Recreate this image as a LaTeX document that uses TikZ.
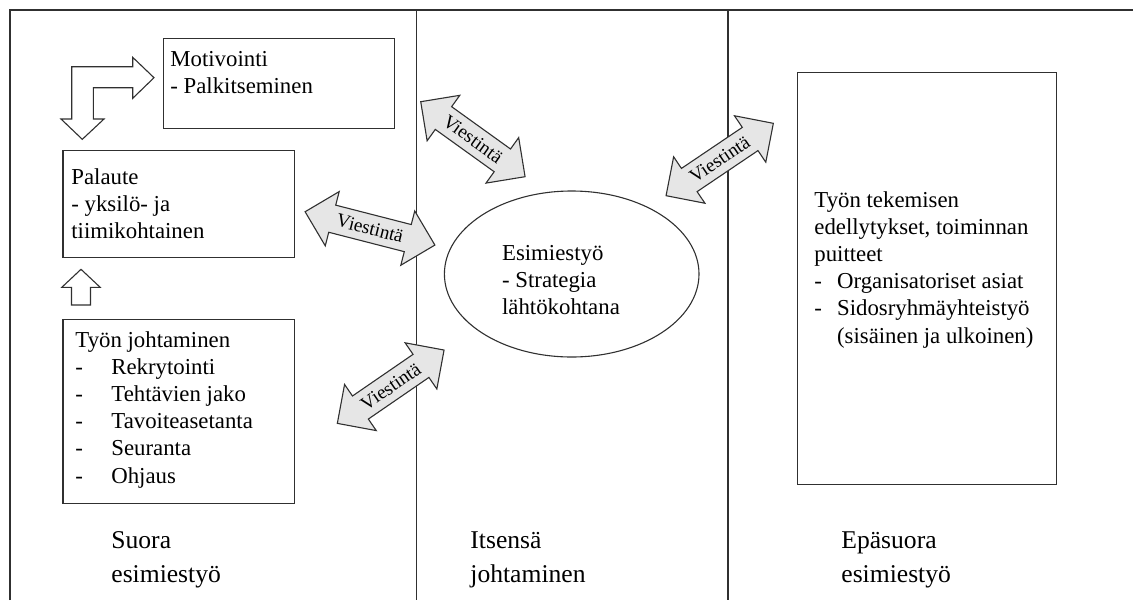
\documentclass[tikz,border=0pt]{standalone}
\usepackage{fontspec}
\IfFontExistsTF{LiberationSerif-Regular.ttf}
  {\setmainfont{LiberationSerif-Regular.ttf}[BoldFont=LiberationSerif-Bold.ttf]}
  {\setmainfont{Liberation Serif}}
\usetikzlibrary{shapes.geometric}
\definecolor{linec}{HTML}{303030}
\definecolor{arrfill}{HTML}{E6E6E6}
\newcommand\bodyfont{\rmfamily\fontsize{11.4pt}{13.6pt}\selectfont}
\newcommand\titlefont{\rmfamily\fontsize{12.8pt}{17pt}\selectfont}
\newcommand\viestfont{\rmfamily\fontsize{9.6pt}{11pt}\selectfont}
\newcommand\itemdash[1]{\makebox[#1][l]{-}}
\begin{document}
\begin{tikzpicture}[x=0.5pt,y=-0.5pt,
  frame/.style={draw=linec, line width=0.65pt},
  boxnode/.style={draw=linec, line width=0.65pt, rectangle, anchor=north west, inner sep=0pt},
  txt/.style={anchor=north west, inner sep=0pt, align=left, font=\bodyfont},
  title/.style={anchor=north west, inner sep=0pt, align=left, font=\titlefont},
  hollow/.style={draw=linec, line width=0.55pt, fill=white, line join=miter},
  blockarrow/.style={draw=linec, line width=0.55pt, fill=arrfill, line join=miter},
  pics/viest/.style={code={
    \draw[blockarrow] ({-#1/2},0) -- ({-#1/2+28},28) -- ({-#1/2+28},14) -- ({#1/2-28},14)
      -- ({#1/2-28},28) -- ({#1/2},0) -- ({#1/2-28},-28) -- ({#1/2-28},-14)
      -- ({-#1/2+28},-14) -- ({-#1/2+28},-28) -- cycle;
    \node[transform shape, font=\viestfont, inner sep=0pt] (-t) {Viestintä};
  }},
  pics/viest/.default=130]

\useasboundingbox (0,0) rectangle (1133,600);

% frame and column separators
\draw[frame] (10,600) -- (10,10) -- (1133,10);
\draw[frame] (416.7,10) -- (416.7,600);
\draw[frame] (728,10) -- (728,600);

% boxes
\node[boxnode, minimum width=115.65pt, minimum height=45pt] (motbox) at (162.7,37.7) {};
\node[boxnode, minimum width=115.85pt, minimum height=53.5pt] (palbox) at (62.3,149.7) {};
\node[boxnode, minimum width=115.85pt, minimum height=91.85pt] (tyobox) at (62.3,319) {};
\node[boxnode, minimum width=129.5pt, minimum height=206pt] (rightbox) at (797,71.5) {};
\node[draw=linec, line width=0.55pt, ellipse, minimum width=127.3pt, minimum height=83pt, inner sep=0pt] (esi) at (571.7,274) {};

% texts
\node[txt] (mottxt) at (170,47) {\strut Motivointi\\- Palkitseminen};
\node[txt] (paltxt) at (71,165) {\strut Palaute\\- yksilö- ja\\tiimikohtainen};
\node[txt] (tyotxt) at (75,327.7) {\strut Työn johtaminen\\
  \itemdash{18pt}Rekrytointi\\
  \itemdash{18pt}Tehtävien jako\\
  \itemdash{18pt}Tavoiteasetanta\\
  \itemdash{18pt}Seuranta\\
  \itemdash{18pt}Ohjaus};
\node[txt] (esitxt) at (501.7,241) {\strut Esimiestyö\\- Strategia\\lähtökohtana};
\node[txt] (righttxt) at (814,187.7) {\strut Työn tekemisen\\edellytykset, toiminnan\\puitteet\\
  \itemdash{11.35pt}Organisatoriset asiat\\
  \itemdash{11.35pt}Sidosryhmäyhteistyö\\
  \makebox[11.35pt]{}(sisäinen ja ulkoinen)};

% column titles
\node[title] (t1) at (111,524.2) {\strut Suora\\esimiestyö};
\node[title] (t2) at (470,524.2) {\strut Itsensä\\johtaminen};
\node[title] (t3) at (841,524.2) {\strut Epäsuora\\esimiestyö};

% hollow arrows
\draw[hollow] (154,77.7) -- (132.7,57.3) -- (132.7,66.7) -- (71.7,66.7) -- (71.7,119)
  -- (61,119) -- (82.3,139.3) -- (104,119) -- (93.3,119) -- (93.3,87.7) -- (132.7,87.7)
  -- (132.7,98.3) -- cycle;
\draw[hollow] (81,269.3) -- (100.2,287.3) -- (90.5,287.3) -- (90.5,305) -- (71.5,305)
  -- (71.5,287.3) -- (61.8,287.3) -- cycle;

% communication arrows
\pic[rotate=-35.7] (v1) at (472.9,139.2) {viest=128.5};
\pic[rotate=-14.4] (v2) at (370,228.4) {viest=134};
\pic[rotate=34.5] (v3) at (390.7,386.7) {viest=129.5};
\pic[rotate=34] (v4) at (719.7,159.5) {viest=129.4};
\end{tikzpicture}
\end{document}
